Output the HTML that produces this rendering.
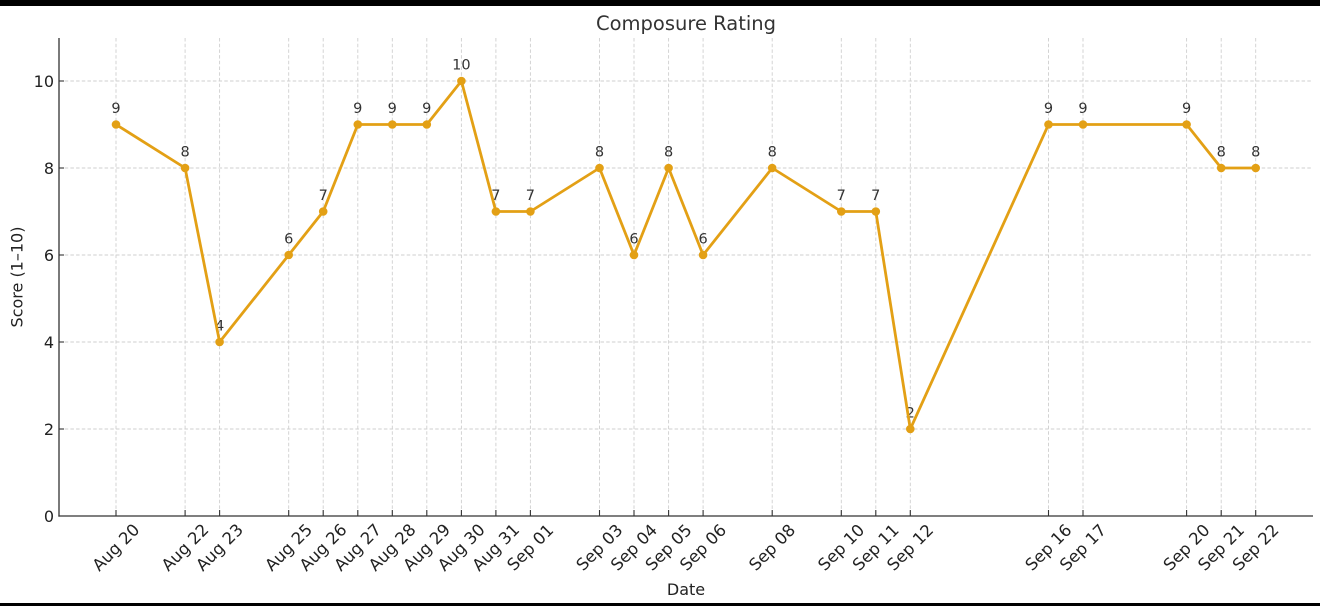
<!DOCTYPE html>
<html>
<head>
<meta charset="utf-8">
<style>
html,body{margin:0;padding:0;background:#fff;}
body{width:1320px;height:606px;overflow:hidden;}
svg{display:block;}
text{font-family:"DejaVu Sans","Liberation Sans",sans-serif;}
</style>
</head>
<body>
<svg width="1320" height="606" viewBox="0 0 1320 606" xmlns="http://www.w3.org/2000/svg">
<rect x="0" y="0" width="1320" height="606" fill="#fff"/>
<rect x="0" y="0" width="1320" height="6" fill="#000"/>
<rect x="0" y="603" width="1320" height="3" fill="#000"/>

<!-- horizontal grid -->
<g stroke="#cfcfcf" stroke-width="0.9" stroke-dasharray="3.5,2.2">
<line x1="59" y1="81" x2="1313" y2="81"/>
<line x1="59" y1="168" x2="1313" y2="168"/>
<line x1="59" y1="255" x2="1313" y2="255"/>
<line x1="59" y1="342" x2="1313" y2="342"/>
<line x1="59" y1="429" x2="1313" y2="429"/>
</g>
<!-- vertical grid -->
<g stroke="#cfcfcf" stroke-width="0.9" stroke-dasharray="3.5,2.2">
<line x1="116.0" y1="38" x2="116.0" y2="516"/>
<line x1="185.1" y1="38" x2="185.1" y2="516"/>
<line x1="219.6" y1="38" x2="219.6" y2="516"/>
<line x1="288.7" y1="38" x2="288.7" y2="516"/>
<line x1="323.2" y1="38" x2="323.2" y2="516"/>
<line x1="357.8" y1="38" x2="357.8" y2="516"/>
<line x1="392.3" y1="38" x2="392.3" y2="516"/>
<line x1="426.8" y1="38" x2="426.8" y2="516"/>
<line x1="461.4" y1="38" x2="461.4" y2="516"/>
<line x1="495.9" y1="38" x2="495.9" y2="516"/>
<line x1="530.4" y1="38" x2="530.4" y2="516"/>
<line x1="599.5" y1="38" x2="599.5" y2="516"/>
<line x1="634.0" y1="38" x2="634.0" y2="516"/>
<line x1="668.6" y1="38" x2="668.6" y2="516"/>
<line x1="703.1" y1="38" x2="703.1" y2="516"/>
<line x1="772.2" y1="38" x2="772.2" y2="516"/>
<line x1="841.3" y1="38" x2="841.3" y2="516"/>
<line x1="875.8" y1="38" x2="875.8" y2="516"/>
<line x1="910.3" y1="38" x2="910.3" y2="516"/>
<line x1="1048.5" y1="38" x2="1048.5" y2="516"/>
<line x1="1083.0" y1="38" x2="1083.0" y2="516"/>
<line x1="1186.6" y1="38" x2="1186.6" y2="516"/>
<line x1="1221.2" y1="38" x2="1221.2" y2="516"/>
<line x1="1255.7" y1="38" x2="1255.7" y2="516"/>
</g>

<!-- spines -->
<g stroke="#333" stroke-width="1.3">
<line x1="59" y1="38" x2="59" y2="516.6"/>
<line x1="58.4" y1="516" x2="1313" y2="516"/>
</g>
<!-- y ticks -->
<g stroke="#333" stroke-width="1.1">
<line x1="59" y1="81" x2="64" y2="81"/>
<line x1="59" y1="168" x2="64" y2="168"/>
<line x1="59" y1="255" x2="64" y2="255"/>
<line x1="59" y1="342" x2="64" y2="342"/>
<line x1="59" y1="429" x2="64" y2="429"/>
</g>
<!-- x ticks -->
<g stroke="#333" stroke-width="1.1">
<line x1="116.0" y1="510" x2="116.0" y2="516"/>
<line x1="185.1" y1="510" x2="185.1" y2="516"/>
<line x1="219.6" y1="510" x2="219.6" y2="516"/>
<line x1="288.7" y1="510" x2="288.7" y2="516"/>
<line x1="323.2" y1="510" x2="323.2" y2="516"/>
<line x1="357.8" y1="510" x2="357.8" y2="516"/>
<line x1="392.3" y1="510" x2="392.3" y2="516"/>
<line x1="426.8" y1="510" x2="426.8" y2="516"/>
<line x1="461.4" y1="510" x2="461.4" y2="516"/>
<line x1="495.9" y1="510" x2="495.9" y2="516"/>
<line x1="530.4" y1="510" x2="530.4" y2="516"/>
<line x1="599.5" y1="510" x2="599.5" y2="516"/>
<line x1="634.0" y1="510" x2="634.0" y2="516"/>
<line x1="668.6" y1="510" x2="668.6" y2="516"/>
<line x1="703.1" y1="510" x2="703.1" y2="516"/>
<line x1="772.2" y1="510" x2="772.2" y2="516"/>
<line x1="841.3" y1="510" x2="841.3" y2="516"/>
<line x1="875.8" y1="510" x2="875.8" y2="516"/>
<line x1="910.3" y1="510" x2="910.3" y2="516"/>
<line x1="1048.5" y1="510" x2="1048.5" y2="516"/>
<line x1="1083.0" y1="510" x2="1083.0" y2="516"/>
<line x1="1186.6" y1="510" x2="1186.6" y2="516"/>
<line x1="1221.2" y1="510" x2="1221.2" y2="516"/>
<line x1="1255.7" y1="510" x2="1255.7" y2="516"/>
</g>

<!-- y tick labels -->
<g font-size="16" fill="#222" text-anchor="end">
<text x="54" y="86.8">10</text>
<text x="54" y="173.8">8</text>
<text x="54" y="260.8">6</text>
<text x="54" y="347.8">4</text>
<text x="54" y="434.8">2</text>
<text x="54" y="521.8">0</text>
</g>

<!-- x tick labels -->
<g font-size="16.5" fill="#222" text-anchor="middle" dominant-baseline="central">
<text transform="translate(116.0,547.5) rotate(-45)">Aug 20</text>
<text transform="translate(185.1,547.5) rotate(-45)">Aug 22</text>
<text transform="translate(219.6,547.5) rotate(-45)">Aug 23</text>
<text transform="translate(288.7,547.5) rotate(-45)">Aug 25</text>
<text transform="translate(323.2,547.5) rotate(-45)">Aug 26</text>
<text transform="translate(357.8,547.5) rotate(-45)">Aug 27</text>
<text transform="translate(392.3,547.5) rotate(-45)">Aug 28</text>
<text transform="translate(426.8,547.5) rotate(-45)">Aug 29</text>
<text transform="translate(461.4,547.5) rotate(-45)">Aug 30</text>
<text transform="translate(495.9,547.5) rotate(-45)">Aug 31</text>
<text transform="translate(530.4,547.5) rotate(-45)">Sep 01</text>
<text transform="translate(599.5,547.5) rotate(-45)">Sep 03</text>
<text transform="translate(634.0,547.5) rotate(-45)">Sep 04</text>
<text transform="translate(668.6,547.5) rotate(-45)">Sep 05</text>
<text transform="translate(703.1,547.5) rotate(-45)">Sep 06</text>
<text transform="translate(772.2,547.5) rotate(-45)">Sep 08</text>
<text transform="translate(841.3,547.5) rotate(-45)">Sep 10</text>
<text transform="translate(875.8,547.5) rotate(-45)">Sep 11</text>
<text transform="translate(910.3,547.5) rotate(-45)">Sep 12</text>
<text transform="translate(1048.5,547.5) rotate(-45)">Sep 16</text>
<text transform="translate(1083.0,547.5) rotate(-45)">Sep 17</text>
<text transform="translate(1186.6,547.5) rotate(-45)">Sep 20</text>
<text transform="translate(1221.2,547.5) rotate(-45)">Sep 21</text>
<text transform="translate(1255.7,547.5) rotate(-45)">Sep 22</text>
</g>

<!-- axis labels & title -->
<text x="686" y="595" font-size="16" fill="#222" text-anchor="middle">Date</text>
<text transform="translate(17,277) rotate(-90)" font-size="16" fill="#222" text-anchor="middle" dominant-baseline="central">Score (1–10)</text>
<text x="686" y="30" font-size="19.5" fill="#333" text-anchor="middle">Composure Rating</text>

<!-- annotations -->
<g font-size="14.5" fill="#333" text-anchor="middle">
<text x="116.0" y="112.8">9</text>
<text x="185.1" y="156.3">8</text>
<text x="219.6" y="330.3">4</text>
<text x="288.7" y="243.3">6</text>
<text x="323.2" y="199.8">7</text>
<text x="357.8" y="112.8">9</text>
<text x="392.3" y="112.8">9</text>
<text x="426.8" y="112.8">9</text>
<text x="461.4" y="69.3">10</text>
<text x="495.9" y="199.8">7</text>
<text x="530.4" y="199.8">7</text>
<text x="599.5" y="156.3">8</text>
<text x="634.0" y="243.3">6</text>
<text x="668.6" y="156.3">8</text>
<text x="703.1" y="243.3">6</text>
<text x="772.2" y="156.3">8</text>
<text x="841.3" y="199.8">7</text>
<text x="875.8" y="199.8">7</text>
<text x="910.3" y="417.3">2</text>
<text x="1048.5" y="112.8">9</text>
<text x="1083.0" y="112.8">9</text>
<text x="1186.6" y="112.8">9</text>
<text x="1221.2" y="156.3">8</text>
<text x="1255.7" y="156.3">8</text>
</g>

<!-- series -->
<polyline fill="none" stroke="#E3A015" stroke-width="2.8" stroke-linejoin="round" stroke-linecap="round"
points="116.0,124.5 185.1,168 219.6,342 288.7,255 323.2,211.5 357.8,124.5 392.3,124.5 426.8,124.5 461.4,81 495.9,211.5 530.4,211.5 599.5,168 634.0,255 668.6,168 703.1,255 772.2,168 841.3,211.5 875.8,211.5 910.3,429 1048.5,124.5 1083.0,124.5 1186.6,124.5 1221.2,168 1255.7,168"/>
<g fill="#E3A015">
<circle cx="116.0" cy="124.5" r="4.3"/>
<circle cx="185.1" cy="168" r="4.3"/>
<circle cx="219.6" cy="342" r="4.3"/>
<circle cx="288.7" cy="255" r="4.3"/>
<circle cx="323.2" cy="211.5" r="4.3"/>
<circle cx="357.8" cy="124.5" r="4.3"/>
<circle cx="392.3" cy="124.5" r="4.3"/>
<circle cx="426.8" cy="124.5" r="4.3"/>
<circle cx="461.4" cy="81" r="4.3"/>
<circle cx="495.9" cy="211.5" r="4.3"/>
<circle cx="530.4" cy="211.5" r="4.3"/>
<circle cx="599.5" cy="168" r="4.3"/>
<circle cx="634.0" cy="255" r="4.3"/>
<circle cx="668.6" cy="168" r="4.3"/>
<circle cx="703.1" cy="255" r="4.3"/>
<circle cx="772.2" cy="168" r="4.3"/>
<circle cx="841.3" cy="211.5" r="4.3"/>
<circle cx="875.8" cy="211.5" r="4.3"/>
<circle cx="910.3" cy="429" r="4.3"/>
<circle cx="1048.5" cy="124.5" r="4.3"/>
<circle cx="1083.0" cy="124.5" r="4.3"/>
<circle cx="1186.6" cy="124.5" r="4.3"/>
<circle cx="1221.2" cy="168" r="4.3"/>
<circle cx="1255.7" cy="168" r="4.3"/>
</g>
</svg>
</body>
</html>
